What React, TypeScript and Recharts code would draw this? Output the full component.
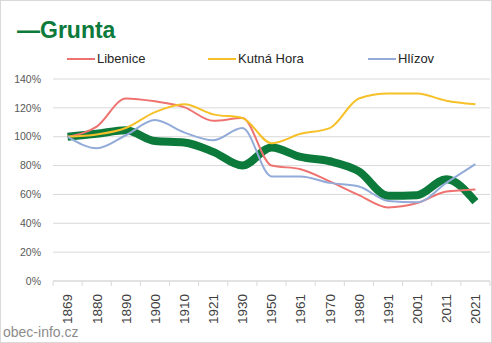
import { LineChart, Line, XAxis, YAxis, CartesianGrid } from 'recharts';

// census years
const years = ['1869', '1880', '1890', '1900', '1910', '1921', '1930', '1950', '1961', '1970', '1980', '1991', '2001', '2011', '2021'];

// population relative to 1869 (%)
const grunta = [100, 102, 104.5, 97, 96, 89.5, 80, 92.5, 86, 83, 76, 59, 59.5, 70.5, 55];
const libenice = [100, 107, 126.5, 124.5, 120.5, 111, 113, 80, 77.5, 69, 59.5, 51, 54, 62, 63.5];
const kutnaHora = [100, 101.5, 106, 117, 122.5, 115.5, 113, 95.5, 102, 106, 126.5, 130, 130, 125, 122.5];
const hlizov = [100, 92, 101, 111.5, 103, 97.5, 106, 72.5, 72.5, 68, 65.5, 55.5, 54.5, 68, 81];

const yTicks = [0, 20, 40, 60, 80, 100, 120, 140];

const GREEN = '#0b7a3a';
const RED = '#ee7370';
const YELLOW = '#f6c028';
const BLUE = '#92abd8';

const data = years.map((year, i) => ({
  year,
  grunta: grunta[i],
  libenice: libenice[i],
  kutnaHora: kutnaHora[i],
  hlizov: hlizov[i],
}));

const legendItems = [
  { name: 'Libenice', color: RED, left: 67 },
  { name: 'Kutná Hora', color: YELLOW, left: 208 },
  { name: 'Hlízov', color: BLUE, left: 368 },
];

const font = '"Liberation Sans", Arial, sans-serif';
const HALF_BAND = 14.57;

function YearTick(props: any) {
  const { x, y, payload, index } = props;
  return (
    <g>
      <line x1={x - HALF_BAND} x2={x - HALF_BAND} y1={y - 8} y2={y - 3} stroke="#d9d9d9" />
      {index === years.length - 1 && (
        <line x1={x + HALF_BAND} x2={x + HALF_BAND} y1={y - 8} y2={y - 3} stroke="#d9d9d9" />
      )}
      <text
        x={x}
        y={y + 5}
        transform={`rotate(-90 ${x} ${y + 5})`}
        textAnchor="end"
        dy="0.36em"
        fontSize={13.5}
        fontFamily={font}
        fill="#404040"
      >
        {payload.value}
      </text>
    </g>
  );
}

export default function App() {
  return (
    <div
      style={{
        position: 'absolute',
        left: 0,
        top: 0,
        width: 490,
        height: 341,
        border: '1px solid #d9d9d9',
        background: '#fff',
        fontFamily: font,
      }}
    >
      <div
        style={{
          position: 'absolute',
          left: 16,
          top: 14,
          fontSize: 23,
          fontWeight: 'bold',
          color: GREEN,
          lineHeight: '30px',
        }}
      >
        —Grunta
      </div>

      {legendItems.map((item) => (
        <div
          key={item.name}
          style={{
            position: 'absolute',
            left: item.left - 1,
            top: 49,
            display: 'flex',
            alignItems: 'center',
            fontSize: 13,
            color: '#262626',
            lineHeight: '18px',
          }}
        >
          <span style={{ width: 28, height: 2, background: item.color, display: 'inline-block', marginRight: 2 }} />
          {item.name}
        </div>
      ))}

      <div
        style={{
          position: 'absolute',
          left: 2,
          top: 323,
          fontSize: 14,
          color: '#8c8c8c',
          lineHeight: '16px',
        }}
      >
        obec-info.cz
      </div>

      <LineChart
        width={490}
        height={341}
        data={data}
        margin={{ top: 78, right: 1, left: 7, bottom: 0 }}
        style={{ position: 'absolute', left: 0, top: 0 }}
      >
        <CartesianGrid horizontal vertical={false} stroke="#d9d9d9" />
        <XAxis
          dataKey="year"
          interval={0}
          height={61}
          padding={{ left: HALF_BAND, right: HALF_BAND }}
          axisLine={{ stroke: '#d9d9d9' }}
          tickLine={false}
          tick={<YearTick />}
        />
        <YAxis
          width={45}
          domain={[0, 140]}
          ticks={yTicks}
          axisLine={false}
          tickLine={false}
          tickFormatter={(v) => `${v}%`}
          tick={{ fontSize: 10.5, fill: '#595959', fontFamily: font, dx: -4 }}
        />
        <Line type="monotone" dataKey="grunta" stroke={GREEN} strokeWidth={8} dot={false} isAnimationActive={false} />
        <Line type="monotone" dataKey="libenice" stroke={RED} strokeWidth={2} dot={false} isAnimationActive={false} />
        <Line type="monotone" dataKey="kutnaHora" stroke={YELLOW} strokeWidth={2} dot={false} isAnimationActive={false} />
        <Line type="monotone" dataKey="hlizov" stroke={BLUE} strokeWidth={2} dot={false} isAnimationActive={false} />
      </LineChart>
    </div>
  );
}
